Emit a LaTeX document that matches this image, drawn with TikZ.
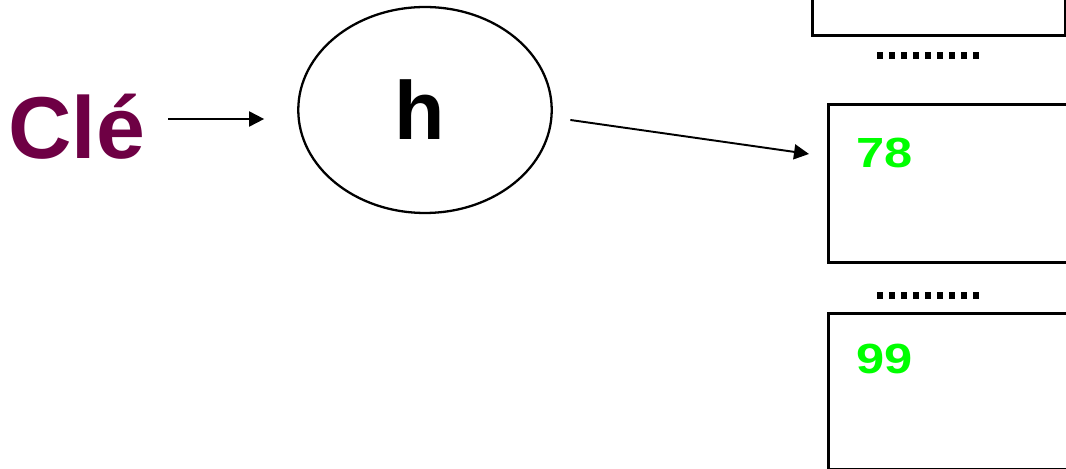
\documentclass[tikz,border=0pt]{standalone}
\usepackage{graphicx}
\usepackage{fontspec}
\setmainfont{Liberation Sans}
\usetikzlibrary{shapes.geometric,arrows.meta,positioning}
\definecolor{clecolor}{RGB}{110,0,68}
\definecolor{numgreen}{RGB}{0,255,0}

\begin{document}
\begin{tikzpicture}[x=0.02cm, y=-0.02cm,
    arrow/.style={-{Triangle[length=0.3cm,width=0.3cm]}, line width=1.1pt},
    slot/.style={draw, line width=1.6pt, minimum width=5.3cm, inner sep=0pt},
    num/.style={text=numgreen, font=\bfseries\fontsize{24}{24}\selectfont, inner sep=0pt, anchor=base west}]
    \useasboundingbox (0,0) rectangle (1066,469);
    \clip (0,0) rectangle (1066,469);

    % Key and hash function
    \node[text=clecolor, font=\bfseries\fontsize{50}{50}\selectfont, inner sep=0pt, anchor=base west] (cle) at (8,159) {Clé};
    \node[draw, ellipse, line width=1.3pt, minimum width=5.07cm, minimum height=4.12cm] (hash) at (425,110) {};
    \node[font=\bfseries\fontsize{47}{47}\selectfont, inner sep=0pt] (hlabel) at ([xshift=-0.1cm]hash.center) {h};

    % Table slots
    \node[slot, anchor=south west, minimum width=5.06cm, minimum height=3cm] (slottop) at (811,37) {};
    \node[slot, anchor=north west, minimum height=3.16cm] (slot78) at (827,103) {};
    \node[slot, anchor=north west, minimum height=3.12cm] (slot99) at (827,312) {};

    % Slot contents
    \node[num] (n78) at ([xshift=0.58cm, yshift=-1.3cm]slot78.north west) {\scalebox{1.2}[1]{78}};
    \node[num] (n99) at ([xshift=0.58cm, yshift=-1.24cm]slot99.north west) {\scalebox{1.2}[1]{99}};

    % Dots between slots
    \foreach \y in {52, 292} {
        \foreach \i in {0,...,8} {
            \fill (877+12*\i, \y) rectangle ++(5.5, 7.5);
        }
    }

    % Arrows
    \coordinate (cleout) at ([yshift=0.8cm]cle.base east);
    \draw[arrow, shorten <=0.46cm, shorten >=0.66cm] (cleout) -- (cleout -| hash.west);
    \draw[arrow] ([xshift=0.35cm, yshift=-0.2cm]hash.east) -- ([xshift=-0.36cm, yshift=-1.02cm]slot78.north west);

\end{tikzpicture}
\end{document}
